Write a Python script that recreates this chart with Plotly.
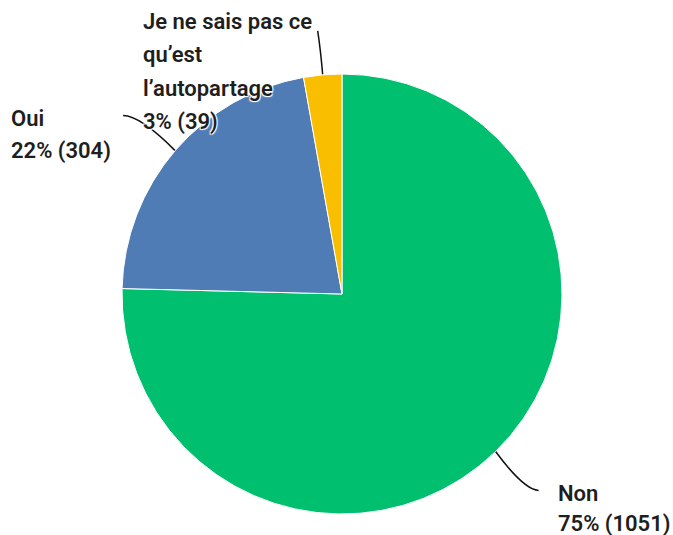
import math
import plotly.graph_objects as go

W, H = 673, 535

categories = ["Non", "Oui", "Je ne sais pas ce qu\u2019est l\u2019autopartage"]
counts = [1051, 304, 39]
label_lines = [["Non"], ["Oui"], ["Je ne sais pas ce", "qu\u2019est", "l\u2019autopartage"]]
colors = ["#00BF6F", "#507CB6", "#F9BE00"]

# pie geometry in pixels
cx, cy, R = 342, 294, 220

fig = go.Figure()
fig.add_trace(go.Pie(
    labels=categories, values=counts, sort=False, direction="clockwise",
    rotation=0, marker=dict(colors=colors, line=dict(color="white", width=1)),
    textinfo="none", hoverinfo="label+value+percent", showlegend=False,
    domain=dict(x=[(cx - R) / W, (cx + R) / W], y=[(H - cy - R) / H, (H - cy + R) / H]),
))

# invisible pixel-space axes for leader lines and labels
fig.add_trace(go.Scatter(x=[0, W], y=[0, H], mode="markers", marker=dict(opacity=0),
                         hoverinfo="skip", showlegend=False))

total = sum(counts)
# per-slice leader geometry and label block position (pixels)
leader = [
    dict(end=(43, 39), ctrl=(28, 38), x0=556, y0=493, step=30),
    dict(end=(-52, -35), ctrl=(-35, -35), x0=9, y0=118, step=32),
    dict(end=(-5, -44), ctrl=(-2, -24), x0=141, y0=21, step=33.5),
]

font = dict(family="Roboto", size=22, weight=600, color="#1e1e1e",
            shadow="1px 1px 1px #fff, -1px -1px 1px #fff, 1px -1px 1px #fff, -1px 1px 1px #fff")

shapes = []
annotations = []
cum = 0
for i, (cat, v) in enumerate(zip(categories, counts)):
    mid = (cum + v / 2) / total
    cum += v
    ang = 2 * math.pi * mid
    sx, sy = cx + R * math.sin(ang), cy - R * math.cos(ang)
    L = leader[i]
    ex, ey = sx + L["end"][0], sy + L["end"][1]
    qx, qy = sx + L["ctrl"][0], sy + L["ctrl"][1]
    shapes.append(dict(type="path", xref="x", yref="y",
                       path=f"M{sx:.1f},{sy:.1f} Q{qx:.1f},{qy:.1f} {ex:.1f},{ey:.1f}",
                       line=dict(color="#111", width=1.5), layer="below"))
    pct = round(100 * v / total)
    lines = label_lines[i] + [f"{pct}% ({v})"]
    for k, ln in enumerate(lines):
        annotations.append(dict(x=L["x0"], y=L["y0"] + L["step"] * k, xref="x", yref="y",
                                text=ln, showarrow=False, xanchor="left", yanchor="middle",
                                font=font))

fig.update_layout(
    width=W, height=H, margin=dict(l=0, r=0, t=0, b=0),
    paper_bgcolor="white", plot_bgcolor="rgba(0,0,0,0)",
    xaxis=dict(range=[0, W], visible=False, fixedrange=True),
    yaxis=dict(range=[H, 0], visible=False, fixedrange=True),
    shapes=shapes, annotations=annotations,
)

fig.write_html("out.html")
